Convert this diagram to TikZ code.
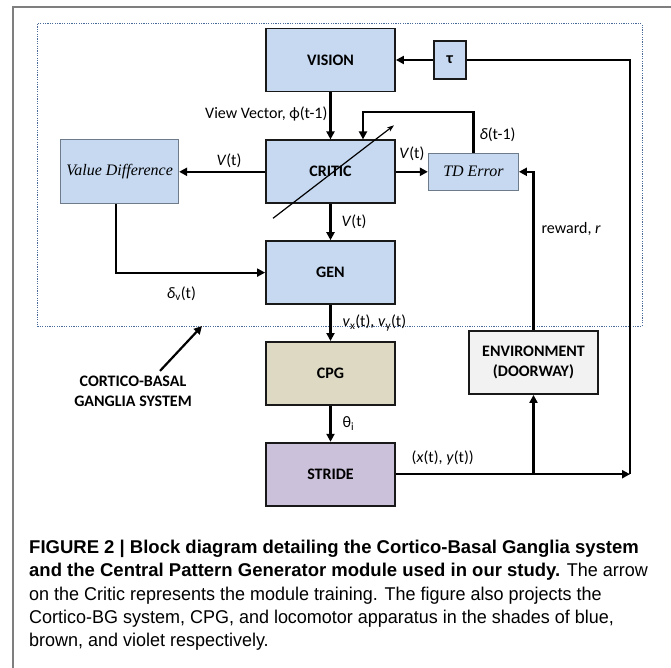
\documentclass[tikz,border=0pt]{standalone}
\usepackage{fontspec}
\setmainfont{Carlito}
\newfontfamily\capfont[UprightFeatures={FakeStretch=0.972}]{Liberation Sans}
\newfontfamily\romfont{Liberation Serif}
\usetikzlibrary{arrows.meta, positioning}

\definecolor{cbgblue}{HTML}{C6D9F1}
\definecolor{cpgbrown}{HTML}{DDD9C3}
\definecolor{stridevio}{HTML}{CCC1DA}
\definecolor{envgray}{HTML}{F2F2F2}
\definecolor{dotblue}{HTML}{4A6A9A}
\definecolor{framegray}{HTML}{7F7F7F}
\definecolor{thinedge}{HTML}{6E7B8B}

\begin{document}
\begin{tikzpicture}[
    x=1pt, y=-1pt,
    % vertical gap between the stacked modules, horizontal gap to TD Error
    node distance=36pt and 32pt,
    module/.style={
        rectangle, draw=black!90, line width=1.8pt, fill=cbgblue,
        minimum width=129pt, minimum height=63pt, inner sep=2pt,
        font=\fontsize{16}{20}\selectfont\bfseries
    },
    evalbox/.style={
        rectangle, draw=thinedge, line width=1pt, fill=cbgblue, inner sep=2pt,
        font=\romfont\itshape\fontsize{16}{19}\selectfont
    },
    lbl/.style={font=\fontsize{16}{19}\selectfont, inner sep=1pt},
    arrow/.style={-{Triangle[length=8pt,width=8pt]}, line width=2.2pt},
    wire/.style={line width=2.2pt},
    train/.style={-{Stealth[length=7pt,width=5pt]}, line width=1.2pt},
    capt/.style={font=\capfont\fontsize{18.5}{23.25}\selectfont, align=left, inner sep=0pt}
]
  \useasboundingbox (0,0) rectangle (671,668);

  % page frame and the cortico-basal ganglia region
  \draw[framegray, line width=2pt] (671,7) -- (13,7) -- (13,668);
  \draw[dotblue, line width=1pt, dash pattern=on 1.2pt off 1.2pt] (37,24) rectangle (642,326);

  % Main column
  \node[module] (vision) at (330.5,60) {VISION};
  \node[module, below=47pt of vision] (critic) {CRITIC};
  \node[module, below=of critic] (gen) {GEN};
  \node[module, below=of gen, fill=cpgbrown] (cpg) {CPG};
  \node[module, below=of cpg, fill=stridevio] (stride) {STRIDE};

  % Side blocks
  \node[evalbox, left=86pt of critic, minimum width=118pt, minimum height=64pt] (valdiff) {Value Difference};
  \node[evalbox, right=of critic, minimum width=90pt, minimum height=37pt] (tderr) {TD Error};
  \node[module, right=37pt of vision, minimum width=32pt, minimum height=38pt] (tau) {τ};
  \node[module, fill=envgray, align=center] (env) at (533.5,362.5) {ENVIRONMENT\\(DOORWAY)};
  \node[font=\fontsize{16}{19.5}\selectfont\bfseries, align=center] (cbglabel) at (133,391.5) {CORTICO-BASAL\\GANGLIA SYSTEM};

  \coordinate (rail) at (630,0);
  \coordinate (fbk) at ([xshift=32.5pt]critic.north);
  \coordinate (cbgtip) at (202,326);

  % Connecting arrows
  \draw[arrow] (tau) -- (vision);
  \draw[arrow] (vision) -- node[lbl, left=1pt, pos=0.45] {View Vector, ϕ(t-1)} (critic);
  \draw[arrow] (critic) -- node[lbl, above=2pt, pos=0.42] {\textit{V}(t)} (valdiff);
  \draw[arrow] (critic) -- node[lbl, above=9pt] {\textit{V}(t)} (tderr);
  \draw[arrow] (critic) -- node[lbl, right=9pt] {\textit{V}(t)} (gen);
  \draw[arrow] (tderr.north) -- node[lbl, right=4pt, pos=0.45] {\textit{δ}(t-1)} ++(0,-41) -| (fbk);
  \draw[arrow] ([xshift=-4pt]valdiff.south) |- node[lbl, below=12pt, pos=0.72] {\textit{δ}\textsubscript{v}(t)} (gen.west);
  \draw[arrow] (gen) -- node[lbl, right=10pt] {\textit{v}\textsubscript{x}(t), \textit{v}\textsubscript{y}(t)} (cpg);
  \draw[arrow] (cpg) -- node[lbl, right=10pt] {θ\textsubscript{i}} (stride);
  \draw[arrow] (stride.east) -- node[lbl, above=7pt, pos=0.2] {(\textit{x}(t), \textit{y}(t))} (stride.east -| rail);
  \draw[wire] (stride.east -| rail) |- (tau.east);
  \draw[arrow] (stride.east -| env.south) -- (env.south);
  \draw[arrow] (env.north) |- node[lbl, right=6pt, pos=0.32] {reward, \textit{r}} (tderr.east);

  % training arrow across the critic
  \draw[train] ([shift={(-57.5,46.5)}]critic.center) -- ([shift={(63.5,-46.5)}]critic.center);
  \draw[arrow] ([xshift=27pt, yshift=2pt]cbglabel.north) -- (cbgtip);

  % Caption
  \node[capt, anchor=north west] (caption) at (29,540) {%
    \bfseries FIGURE 2 | Block diagram detailing the Cortico-Basal Ganglia system\\
    \textbf{and the Central Pattern Generator module used in our study.} The arrow\\
    on the Critic represents the module training. The figure also projects the\\
    Cortico-BG system, CPG, and locomotor apparatus in the shades of blue,\\
    brown, and violet respectively.};
\end{tikzpicture}
\end{document}
